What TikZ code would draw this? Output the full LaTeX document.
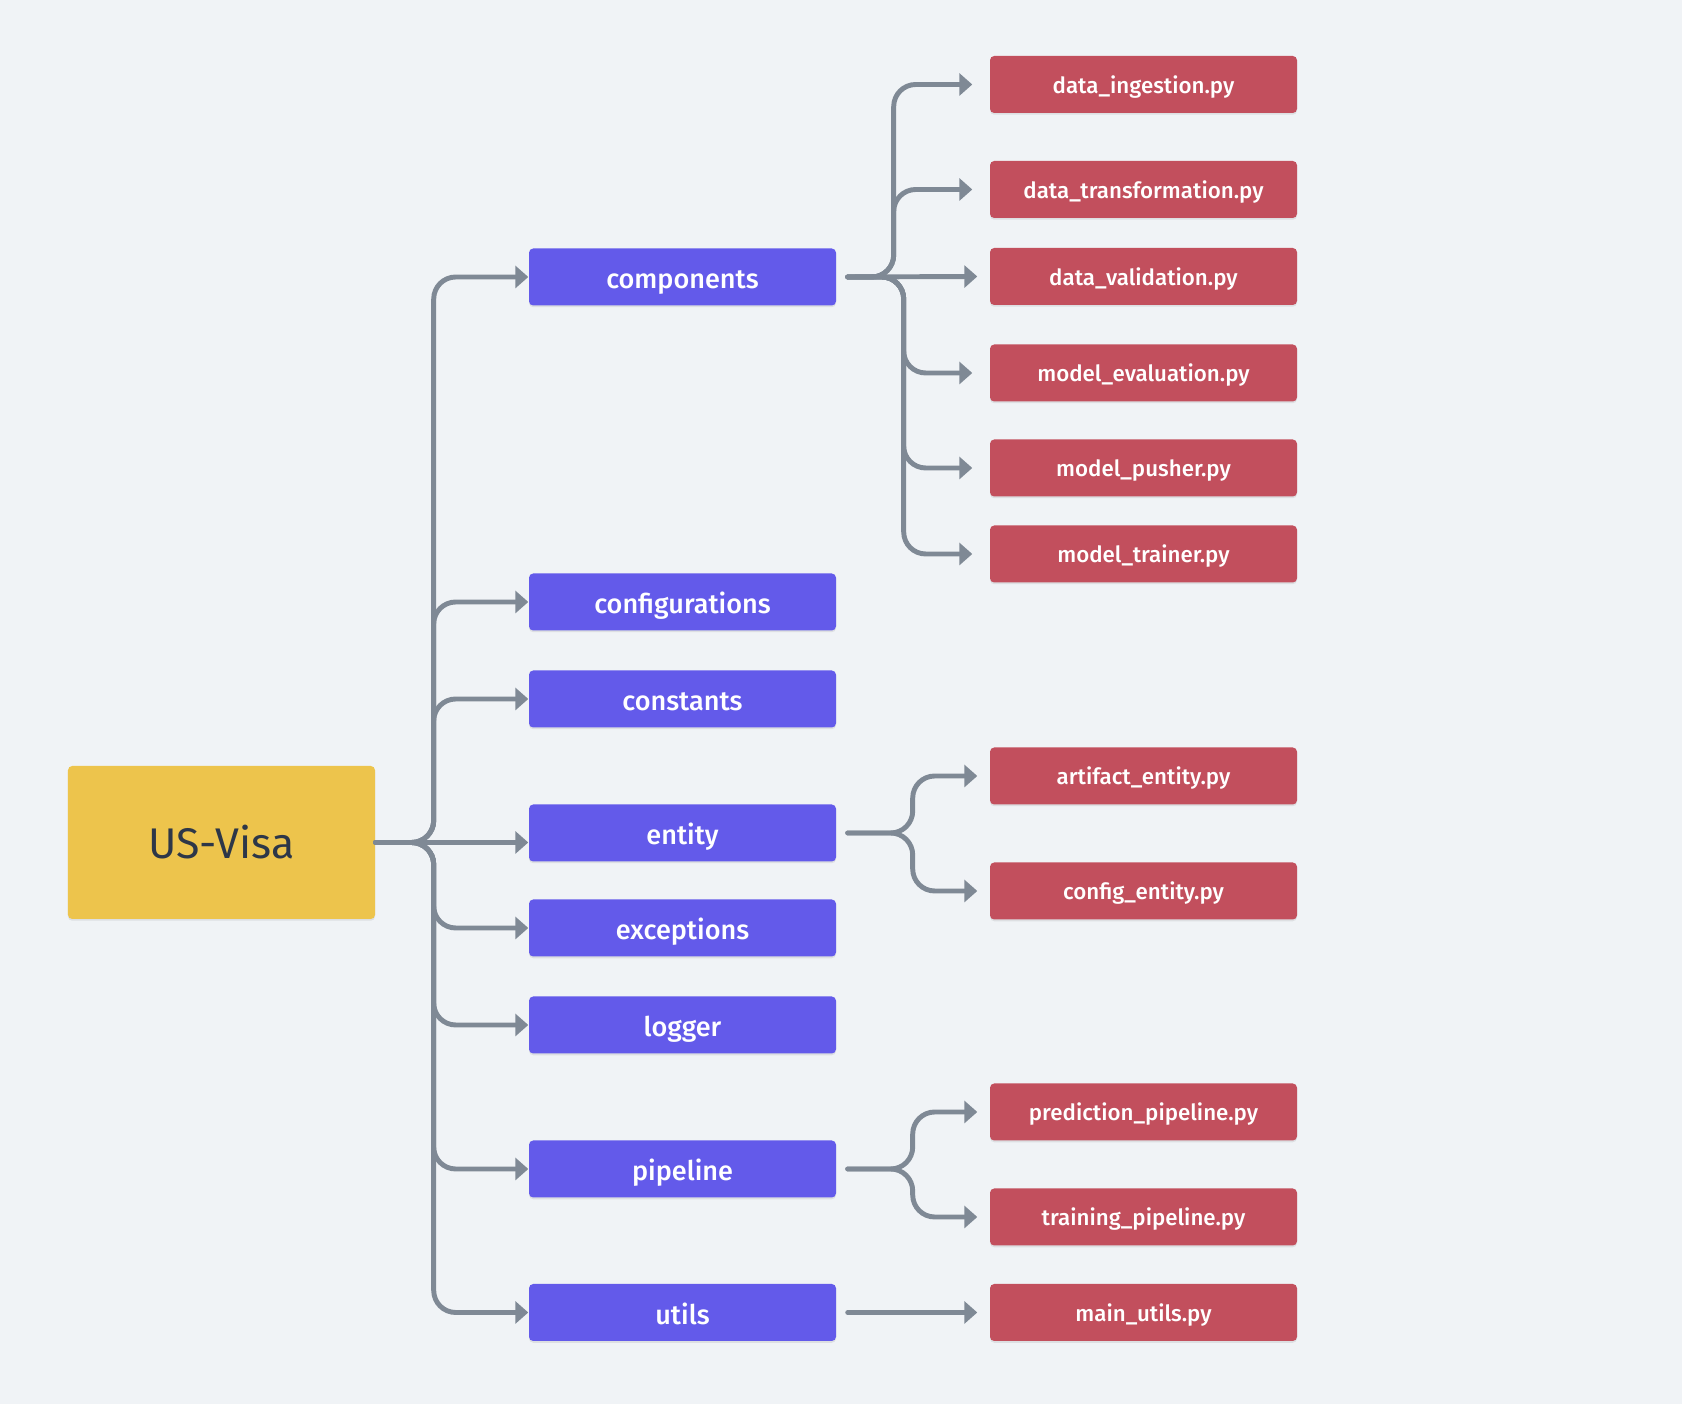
\documentclass[tikz,border=0pt]{standalone}
\usepackage{fontspec}
\setmainfont{Fira Sans}[BoldFont={Fira Sans Medium}]
\usetikzlibrary{arrows.meta,shadows}
\definecolor{bgcol}{HTML}{F0F3F6}
\definecolor{rootcol}{HTML}{EDC44C}
\definecolor{dircol}{HTML}{635AEA}
\definecolor{filecol}{HTML}{C24F5D}
\definecolor{linkcol}{HTML}{7F8995}
\definecolor{inkcol}{HTML}{2D3748}

\begin{document}
\begin{tikzpicture}[
  box/.style={rectangle, rounded corners=1.2pt, inner sep=0pt, minimum width=3.07cm, minimum height=0.57cm, text=white, drop shadow={shadow xshift=0pt, shadow yshift=-0.5pt, opacity=0.08, fill=black}},
  root/.style={box, fill=rootcol, minimum height=1.53cm, text=inkcol, font=\fontsize{12.2}{14}\selectfont},
  dir/.style={box, fill=dircol, text height=0.9em, text depth=0.24em, font=\bfseries\fontsize{7.7}{9}\selectfont},
  file/.style={box, fill=filecol, text height=0.74em, text depth=0.24em, font=\bfseries\fontsize{6.35}{8}\selectfont},
  link/.style={draw=linkcol, line width=1.4pt, line cap=round, rounded corners=0.22cm, -{Triangle[length=1.3mm, width=2.2mm]}}
]
\useasboundingbox[fill=bgcol] (0,0) rectangle (16.82,-14.04);
\node[root] (L0N0) at (2.215,-8.425) {US-Visa};
\node[dir] (L1N1) at (6.825,-2.77) {components};
\node[dir] (L1N2) at (6.825,-6.02) {configurations};
\node[dir] (L1N3) at (6.825,-6.99) {constants};
\node[dir] (L1N4) at (6.825,-8.33) {entity};
\node[dir] (L1N5) at (6.825,-9.28) {exceptions};
\node[dir] (L1N6) at (6.825,-10.25) {logger};
\node[dir] (L1N7) at (6.825,-11.69) {pipeline};
\node[dir] (L1N8) at (6.825,-13.125) {utils};
\node[file] (L2N1) at (11.435,-0.845) {data\_ingestion.py};
\node[file] (L2N2) at (11.435,-1.895) {data\_transformation.py};
\node[file] (L2N3) at (11.435,-2.765) {data\_validation.py};
\node[file] (L2N4) at (11.435,-3.73) {model\_evaluation.py};
\node[file] (L2N5) at (11.435,-4.68) {model\_pusher.py};
\node[file] (L2N6) at (11.435,-5.54) {model\_trainer.py};
\node[file] (L2N7) at (11.435,-7.76) {artifact\_entity.py};
\node[file] (L2N8) at (11.435,-8.91) {config\_entity.py};
\node[file] (L2N9) at (11.435,-11.12) {prediction\_pipeline.py};
\node[file] (L2N10) at (11.435,-12.17) {training\_pipeline.py};
\node[file] (L2N11) at (11.435,-13.125) {main\_utils.py};
\draw[link] (L0N0.east) -- ++(0.58,0) |- (L1N1.west);
\draw[link] (L0N0.east) -- ++(0.58,0) |- (L1N2.west);
\draw[link] (L0N0.east) -- ++(0.58,0) |- (L1N3.west);
\draw[link] (L0N0.east) -- (L0N0.east -| L1N4.west);
\draw[link] (L0N0.east) -- ++(0.58,0) |- (L1N5.west);
\draw[link] (L0N0.east) -- ++(0.58,0) |- (L1N6.west);
\draw[link] (L0N0.east) -- ++(0.58,0) |- (L1N7.west);
\draw[link] (L0N0.east) -- ++(0.58,0) |- (L1N8.west);
\draw[link] ([xshift=1.1mm]L1N1.east) -- ++(0.46,0) |- ([xshift=-1.7mm]L2N1.west);
\draw[link] ([xshift=1.1mm]L1N1.east) -- ++(0.46,0) |- ([xshift=-1.7mm]L2N2.west);
\draw[link] ([xshift=1.1mm]L1N1.east) -- ([xshift=-1.2mm]L2N3.west);
\draw[link] ([xshift=1.1mm]L1N1.east) -- ++(0.56,0) |- ([xshift=-1.7mm]L2N4.west);
\draw[link] ([xshift=1.1mm]L1N1.east) -- ++(0.56,0) |- ([xshift=-1.7mm]L2N5.west);
\draw[link] ([xshift=1.1mm]L1N1.east) -- ++(0.56,0) |- ([xshift=-1.7mm]L2N6.west);
\draw[link] ([xshift=1.1mm]L1N4.east) -- ++(0.65,0) |- ([xshift=-1.2mm]L2N7.west);
\draw[link] ([xshift=1.1mm]L1N4.east) -- ++(0.65,0) |- ([xshift=-1.2mm]L2N8.west);
\draw[link] ([xshift=1.1mm]L1N7.east) -- ++(0.65,0) |- ([xshift=-1.2mm]L2N9.west);
\draw[link] ([xshift=1.1mm]L1N7.east) -- ++(0.65,0) |- ([xshift=-1.2mm]L2N10.west);
\draw[link] ([xshift=1.1mm]L1N8.east) -- ([xshift=-1.2mm]L2N11.west);
\end{tikzpicture}
\end{document}
